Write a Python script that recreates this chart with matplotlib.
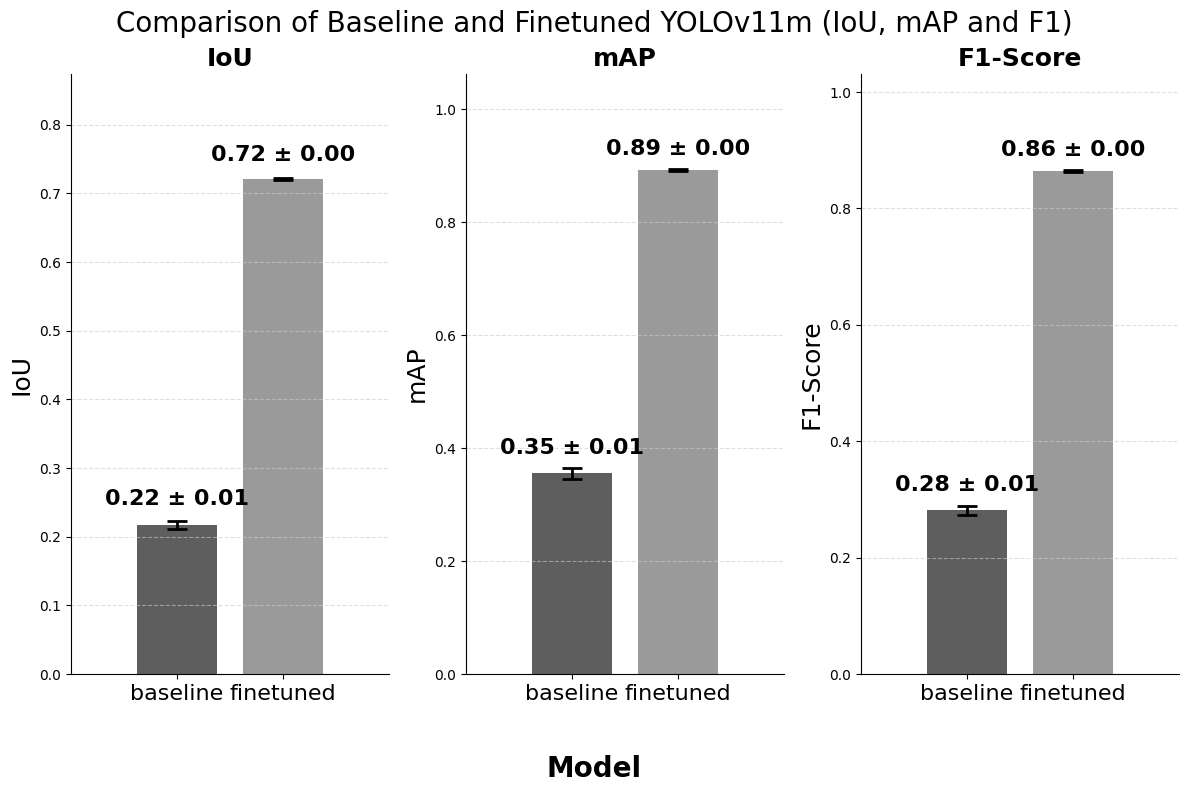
import matplotlib.pyplot as plt
import numpy as np

# ---------------------------------------------------------------------
# Data
# ---------------------------------------------------------------------
models = ["baseline", "finetuned"]
metrics = ["IoU", "mAP", "F1-Score"]

iou_mean = [0.217, 0.721]
iou_std = [0.006, 0.002]
map_mean = [0.355, 0.892]
map_std = [0.010, 0.002]
f1_mean = [0.281, 0.864]
f1_std = [0.008, 0.002]

means = [iou_mean, map_mean, f1_mean]
stds = [iou_std, map_std, f1_std]

colors = ["#5e5e5e", "#9a9a9a"]
y_tops = [0.874, 1.062, 1.031]

fig, axes = plt.subplots(1, 3, figsize=(11.89, 7.94), dpi=100)
fig.subplots_adjust(left=0.0597, right=0.9916, top=0.9068, bottom=0.1511, wspace=0.242)

for ax, metric, m, s, top in zip(axes, metrics, means, stds, y_tops):
    x = np.arange(len(models))
    ax.bar(x, m, width=0.75, color=colors, yerr=s, capsize=7.5,
           error_kw=dict(elinewidth=2, capthick=2, ecolor="black"))
    for xi, mi, si in zip(x, m, s):
        ax.text(xi, mi + si + 0.018, f"{mi:.2f} ± {si:.2f}", ha="center", va="bottom",
                fontsize=16, fontweight="bold")
    ax.set_xlim(-1, 2)
    ax.set_ylim(0, top)
    ax.set_xticks(x)
    ax.set_xticklabels(models, fontsize=16)
    ax.set_title(metric, fontsize=18, fontweight="bold")
    ax.set_ylabel(metric, fontsize=18)
    ax.grid(True, axis="y", linestyle="--", color="#cccccc", alpha=0.6)
    ax.spines["top"].set_visible(False)
    ax.spines["right"].set_visible(False)

fig.suptitle("Comparison of Baseline and Finetuned YOLOv11m (IoU, mAP and F1)", fontsize=20, y=0.988)
fig.text(0.5, 0.032, "Model", ha="center", va="center", fontsize=20, fontweight="bold")

plt.savefig("out.png", dpi=100)
